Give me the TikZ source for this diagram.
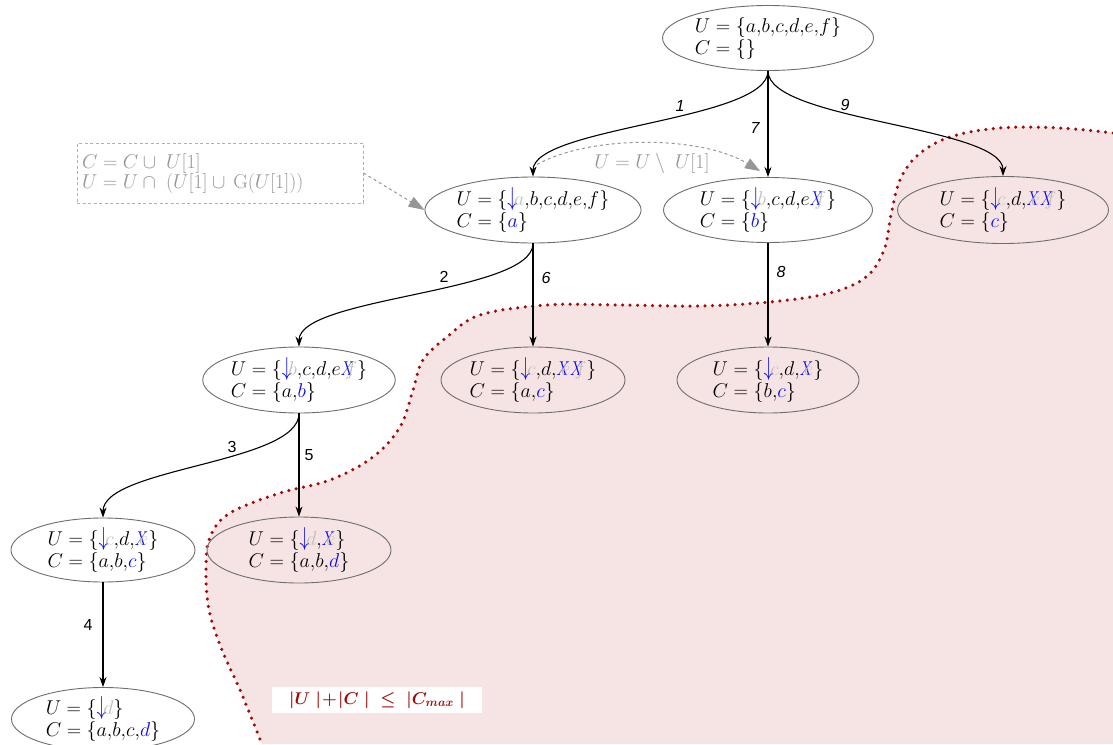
\documentclass[tikz,border=0pt]{standalone}
\usepackage{fix-cm}
\usepackage{fontspec}
\newfontfamily\lab{Liberation Sans}
\usetikzlibrary{shapes.geometric,arrows.meta}
\definecolor{pinkbg}{RGB}{246,228,228}
\definecolor{dred}{RGB}{160,10,10}
\definecolor{ellc}{RGB}{110,110,110}
\definecolor{greyt}{RGB}{150,150,150}
\definecolor{boxc}{RGB}{175,175,175}
\definecolor{bblue}{RGB}{10,10,240}
\newcommand\dn[1]{\rlap{\raisebox{-0.5pt}{\color{bblue}\scalebox{1}[1.3]{$\downarrow$}}}\mkern6mu{\color{black!25}#1}}
\newcommand\xo[1]{\rlap{\color{bblue}\scalebox{0.75}[1]{$X$}}\mkern4mu{\color{black!25}#1}}
\newcommand\bl[1]{{\color{bblue}#1}}
\newcommand\cm{{,}}
\newcommand\nt[2]{$U = \{#1\}$\\$C = \{#2\}$}
\tikzset{
  st/.style={ellipse, draw=ellc, line width=0.9pt, inner sep=0pt, align=left,
    font=\fontsize{20}{22}\selectfont},
  ed/.style={-{Stealth[length=10pt,width=7pt]}, line width=1.1pt},
  lb/.style={font=\lab\fontsize{16}{16}\selectfont, inner sep=0pt},
  lbi/.style={font=\lab\itshape\fontsize{16}{16}\selectfont, inner sep=0pt},
  gdash/.style={greyt, line width=1pt, dash pattern=on 3pt off 3pt},
}
\begin{document}
\begin{tikzpicture}[x=1pt,y=1pt]
\useasboundingbox (0,0) rectangle (1113,-744);
\fill[white] (0,0) rectangle (1113,-744);
% pink region
\fill[pinkbg] plot[smooth, tension=0.6] coordinates {(1113,-133) (1060,-128) (1000,-128) (950,-137) (918,-155) (900,-180) (891,-215) (884,-250) (866,-277) (830,-293) (770,-302) (700,-306) (620,-305) (547,-305) (480,-315) (447,-337) (423,-360) (413,-390) (400,-427) (373,-457) (330,-480) (280,-493) (230,-513) (210,-537) (206,-570) (209,-610) (222,-650) (240,-690) (262,-744)} -- (1113,-744) -- cycle;
\draw[dred, line width=3.5pt, line cap=round, dash pattern=on 0pt off 7.5pt] plot[smooth, tension=0.6] coordinates {(1113,-133) (1060,-128) (1000,-128) (950,-137) (918,-155) (900,-180) (891,-215) (884,-250) (866,-277) (830,-293) (770,-302) (700,-306) (620,-305) (547,-305) (480,-315) (447,-337) (423,-360) (413,-390) (400,-427) (373,-457) (330,-480) (280,-493) (230,-513) (210,-537) (206,-570) (209,-610) (222,-650) (240,-690) (262,-744)};
% nodes
\node[st, minimum width=211pt, minimum height=65pt] (root) at (768,-38) {\nt{a\cm b\cm c\cm d\cm e\cm f}{}};
\node[st, minimum width=209pt, minimum height=66pt] (A) at (533,-210) {\nt{\dn{a}\cm b\cm c\cm d\cm e\cm f}{\bl{a}}};
\node[st, minimum width=209pt, minimum height=65pt] (B) at (768,-210) {\nt{\dn{b}\cm c\cm d\cm e\xo{f}}{\bl{b}}};
\node[st, minimum width=211pt, minimum height=67pt] (Cc) at (1003,-210) {\nt{\dn{c}\cm d\cm \xo{e}\xo{f}}{\bl{c}}};
\node[st, minimum width=184pt, minimum height=66pt] (D) at (299,-380) {\nt{\dn{b}\cm c\cm d\cm e\xo{f}}{a\cm \bl{b}}};
\node[st, minimum width=184pt, minimum height=66pt] (E) at (533,-380) {\nt{\dn{c}\cm d\cm \xo{e}\xo{f}}{a\cm \bl{c}}};
\node[st, minimum width=182pt, minimum height=66pt] (F) at (768,-380) {\nt{\dn{c}\cm d\cm \xo{e}}{b\cm \bl{c}}};
\node[st, minimum width=184pt, minimum height=64pt] (G) at (103,-550) {\nt{\dn{c}\cm d\cm \xo{e}}{a\cm b\cm \bl{c}}};
\node[st, minimum width=184pt, minimum height=66pt] (H) at (299,-550) {\nt{\dn{d}\cm \xo{e}}{a\cm b\cm \bl{d}}};
\node[st, minimum width=183pt, minimum height=62pt] (I) at (103,-719) {\nt{\dn{d}}{a\cm b\cm c\cm \bl{d}}};
% edges
\draw[ed] (root.south) .. controls +(0,-50) and +(0,50) .. (A.north);
\draw[ed] (root.south) -- (B.north);
\draw[ed] (root.south) .. controls +(0,-50) and +(0,50) .. (Cc.north);
\draw[ed] (A.south) .. controls +(0,-50) and +(0,50) .. (D.north);
\draw[ed] (A.south) -- (E.north);
\draw[ed] (B.south) -- (F.north);
\draw[ed] (D.south) .. controls +(0,-50) and +(0,50) .. (G.north);
\draw[ed] (D.south) -- (H.north);
\draw[ed] (G.south) -- (I.north);
% edge labels
\node[lbi] (l1) at (680,-106) {1};
\node[lbi] (l7) at (755,-128) {7};
\node[lbi] (l9) at (845,-105) {9};
\node[lb] (l2) at (444,-277) {2};
\node[lbi] (l6) at (546,-278) {6};
\node[lbi] (l8) at (781,-272) {8};
\node[lb] (l3) at (232,-447) {3};
\node[lb] (l5) at (309,-455) {5};
\node[lb] (l4) at (88,-625) {4};
% annotation box
\node[draw=boxc, dash pattern=on 3pt off 2.5pt, line width=0.8pt, text=greyt, align=left,
  text width=276pt, inner xsep=5pt, inner ysep=4pt, minimum height=60pt,
  font=\fontsize{20}{20}\selectfont] (note) at (220,-173)
  {$C = C \cup\; U[1]$\\$U = U \cap\; (U[1] \cup\, \mathrm{G}(U[1]))$};
\draw[gdash, -{Triangle[length=16pt,width=11pt]}] (note.east) -- (A.west);
\draw[gdash, -{Triangle[length=15pt,width=11pt]}] ([shift={(4,12)}]A.north) .. controls (590,-135) and (700,-135) .. ([shift={(-8,6)}]B.north);
\node[text=greyt, inner sep=0pt, font=\fontsize{20}{20}\selectfont] (setm) at (652,-163) {$U = U \setminus\; U[1]$};
% constraint
\node[fill=white, text=dred, inner sep=0pt, minimum width=210pt, minimum height=26pt,
  font=\fontsize{17}{17}\selectfont\boldmath] (cst) at (377,-700)
  {$|U\;|\!+\!|C\;|\;\le\;|C_{max}\;|$};
\end{tikzpicture}
\end{document}
